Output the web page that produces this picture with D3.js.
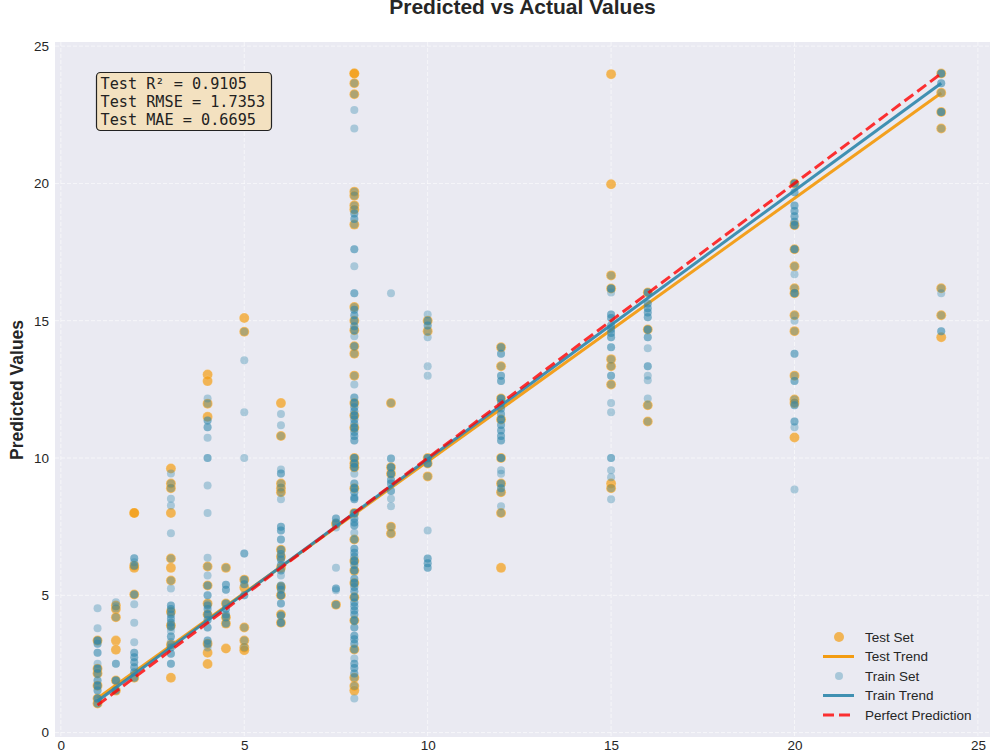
<!DOCTYPE html>
<html>
<head>
<meta charset="utf-8">
<script src="https://cdn.jsdelivr.net/npm/d3@7"></script>
<style>
  html, body { margin: 0; padding: 0; background: #ffffff; }
  svg { display: block; font-family: "Liberation Sans", Arial, sans-serif; }
</style>
</head>
<body>
<svg id="chart" width="1000" height="750"></svg>
<script>
// ---------- DATA ----------
// Each group: [actual value, [predicted values ...]]  (repeated values = overlapping points)
const testGroups = [
  [1,   [3.35, 2.33, 2.15, 1.71, 1.24, 1.06]],
  [1.5, [4.63, 4.5, 4.2, 3.35, 3.02, 1.9, 1.53]],
  [2,   [8.0, 8.0, 6.08, 6.0, 5.03, 2.0]],
  [3,   [9.62, 9.07, 8.9, 8.0, 6.34, 6.0, 5.54, 4.4, 3.9, 3.2, 2.0]],
  [4,   [13.04, 12.8, 11.98, 11.5, 6.05, 5.36, 4.7, 4.3, 3.24, 2.91, 2.5]],
  [4.5, [6.0, 4.7, 4.2, 3.97, 3.06]],
  [5,   [15.1, 14.6, 5.57, 5.28, 3.83, 3.35, 3.1, 3.0]],
  [6,   [12.0, 10.8, 9.07, 8.9, 8.75, 6.66, 6.4, 6.0, 5.3, 5.0, 4.3, 4.0]],
  [7.5, [7.6, 4.66]],
  [8,   [24.0, 24.0, 23.65, 23.25, 19.7, 19.55, 19.2, 19.05, 18.5, 15.5, 15.0, 14.65, 14.07, 13.8, 13.0, 12.0, 11.55, 11.1, 10.0, 9.8, 9.66, 8.9, 8.0, 7.03, 6.25, 5.9, 5.45, 4.93, 4.08, 3.03, 2.0, 1.7, 1.53]],
  [9,   [12.0, 9.66, 9.43, 7.5, 7.25]],
  [10,  [15.0, 14.62, 10.0, 9.8, 9.33]],
  [12,  [14.03, 13.34, 12.17, 11.4, 10.0, 9.07, 8.75, 8.0, 6.0]],
  [15,  [23.98, 19.97, 16.65, 16.17, 13.6, 13.34, 12.68, 9.07, 8.9]],
  [16,  [16.03, 14.68, 11.92, 11.33]],
  [20,  [20.0, 18.48, 17.6, 16.98, 16.18, 16.0, 15.2, 14.62, 13.0, 12.13, 12.0, 10.75]],
  [24,  [24.0, 23.3, 22.6, 22.0, 16.18, 15.2, 14.4]]
];

const trainGroups = [
  [1,   [4.53, 3.8, 3.35, 3.35, 3.35, 3.24, 3.24, 2.91, 2.91, 2.51, 2.33, 2.33, 2.33, 2.15, 2.15, 1.9, 1.9, 1.71, 1.71, 1.71, 1.53, 1.53, 1.24, 1.24, 1.24, 1.06, 1.06]],
  [1.5, [4.75, 4.6, 4.52, 4.2, 2.51, 2.51, 1.9, 1.9, 1.9, 1.53, 1.53]],
  [2,   [6.35, 6.35, 6.2, 6.08, 6.08, 5.03, 5.03, 4.67, 4.0, 3.29, 2.91, 2.91, 2.74, 2.74, 2.56, 2.56, 2.38, 2.38, 2.2, 2.2, 2.0, 2.0]],
  [3,   [9.44, 9.07, 8.9, 8.52, 8.27, 7.26, 6.34, 5.54, 5.25, 4.63, 4.63, 4.5, 4.5, 4.4, 4.3, 4.3, 4.15, 4.15, 4.0, 4.0, 3.9, 3.85, 3.85, 3.7, 3.5, 3.5, 3.3, 3.2, 3.1, 3.1, 2.87, 2.87, 2.51, 2.51]],
  [4,   [12.17, 11.98, 11.37, 11.37, 11.12, 11.12, 10.74, 10.0, 10.0, 9.0, 8.0, 6.37, 6.05, 5.72, 5.36, 5.36, 5.0, 5.0, 4.7, 4.63, 4.63, 4.5, 4.5, 4.3, 4.3, 4.3, 4.1, 4.1, 3.83, 3.83, 3.35, 3.35, 3.24, 3.24, 3.1]],
  [4.5, [6.0, 5.38, 5.38, 5.2, 5.2, 4.7, 4.7, 4.5, 4.5, 4.3, 4.3, 4.2, 4.2, 3.97, 3.97]],
  [5,   [14.6, 13.56, 11.67, 10.0, 6.52, 6.52, 5.57, 5.57, 5.4, 5.4, 5.0, 5.0, 3.83, 3.35, 3.1]],
  [6,   [11.6, 11.19, 10.8, 9.58, 9.44, 9.44, 9.07, 8.93, 8.75, 8.5, 7.5, 7.5, 7.36, 7.36, 7.03, 7.03, 6.66, 6.66, 6.5, 6.5, 6.4, 6.3, 6.3, 6.1, 6.1, 5.9, 5.9, 5.72, 5.36, 5.36, 5.3, 5.2, 5.2, 5.0, 5.0, 5.0, 4.7, 4.7, 4.3, 4.26, 4.26, 4.0, 4.0, 4.0]],
  [7.5, [7.8, 7.8, 7.65, 7.65, 7.6, 7.47, 6.0, 5.25, 5.25, 5.18, 4.66, 4.66]],
  [8,   [23.65, 23.25, 22.67, 22.0, 19.7, 19.55, 19.2, 19.05, 18.9, 18.9, 18.7, 18.7, 18.5, 17.6, 17.6, 16.98, 16.0, 16.0, 15.5, 15.4, 15.4, 15.2, 15.2, 15.0, 15.0, 14.8, 14.8, 14.65, 14.65, 14.43, 14.07, 14.07, 13.8, 13.0, 12.68, 12.2, 12.2, 12.0, 12.0, 12.0, 11.85, 11.85, 11.7, 11.7, 11.55, 11.55, 11.55, 11.4, 11.4, 11.25, 11.25, 11.1, 11.1, 11.1, 10.95, 10.95, 10.8, 10.8, 10.64, 10.64, 10.0, 10.0, 10.0, 9.8, 9.8, 9.8, 9.66, 9.66, 9.66, 9.43, 9.07, 9.07, 8.9, 8.9, 8.9, 8.75, 8.75, 8.56, 8.56, 8.5, 8.5, 8.0, 8.0, 8.0, 7.8, 7.8, 7.65, 7.65, 7.54, 7.54, 7.28, 7.03, 7.03, 6.7, 6.7, 6.55, 6.55, 6.4, 6.4, 6.25, 6.25, 6.25, 6.1, 6.1, 5.9, 5.9, 5.9, 5.6, 5.6, 5.45, 5.45, 5.45, 5.3, 5.3, 5.15, 5.15, 4.93, 4.93, 4.93, 4.74, 4.74, 4.6, 4.6, 4.45, 4.45, 4.3, 4.3, 4.08, 4.08, 4.08, 3.83, 3.83, 3.53, 3.53, 3.4, 3.4, 3.24, 3.24, 3.03, 3.03, 2.7, 2.51, 2.51, 2.35, 2.35, 2.15, 2.15, 2.0, 1.7, 1.24]],
  [9,   [16.0, 12.0, 9.98, 9.98, 9.66, 9.66, 9.66, 9.43, 9.43, 9.43, 9.2, 9.2, 9.07, 9.07, 8.8, 8.8, 8.52, 8.24, 7.5, 7.25]],
  [10,  [15.23, 15.0, 15.0, 14.83, 14.83, 14.62, 14.4, 13.34, 13.0, 10.0, 10.0, 10.0, 9.8, 9.8, 9.8, 9.33, 7.36, 6.34, 6.34, 6.17, 6.17, 6.0, 6.0]],
  [12,  [14.03, 14.03, 13.8, 13.8, 13.34, 13.0, 13.0, 12.8, 12.8, 12.17, 12.17, 12.17, 12.0, 12.0, 11.8, 11.8, 11.6, 11.6, 11.4, 11.4, 11.4, 11.2, 11.2, 11.0, 11.0, 10.8, 10.8, 10.64, 10.64, 10.0, 10.0, 10.0, 9.55, 9.43, 9.07, 9.07, 8.9, 8.9, 8.75, 8.24, 8.0]],
  [15,  [16.65, 16.17, 16.17, 16.17, 16.03, 15.23, 15.23, 15.1, 15.1, 14.83, 14.83, 14.7, 14.7, 14.55, 14.55, 14.4, 14.4, 14.03, 14.03, 13.6, 13.34, 13.0, 13.0, 12.68, 12.0, 11.67, 10.0, 10.0, 9.55, 9.3, 8.9, 8.5]],
  [16,  [16.03, 16.03, 16.03, 15.63, 15.63, 15.45, 15.45, 15.3, 15.3, 15.13, 15.13, 14.68, 14.68, 14.68, 14.4, 14.4, 14.0, 13.34, 13.34, 13.0, 12.83, 12.17, 11.92, 11.33]],
  [20,  [20.0, 20.0, 20.0, 19.68, 19.68, 19.2, 19.2, 19.0, 19.0, 18.8, 18.8, 18.6, 18.6, 18.48, 18.48, 18.48, 17.6, 17.6, 17.6, 16.98, 16.69, 16.18, 16.0, 16.0, 16.0, 15.2, 15.0, 14.62, 13.8, 13.8, 13.0, 12.8, 12.8, 12.13, 12.0, 11.92, 11.92, 11.33, 11.33, 11.12, 8.85]],
  [24,  [24.0, 24.0, 24.0, 23.65, 23.65, 23.3, 22.6, 22.6, 22.6, 22.0, 16.18, 16.0, 15.2, 14.62, 14.62]]
];

// Trend line end points (x from min to max actual)
const trendX = [1, 24];
const testTrendY = [1.25, 23.29];
const trainTrendY = [1.15, 23.65];
const perfectY = [1, 24];

const xTicks = [0, 5, 10, 15, 20, 25];
const yTicks = [0, 5, 10, 15, 20, 25];

const metricLines = ["Test R\u00B2 = 0.9105", "Test RMSE = 1.7353", "Test MAE = 0.6695"];
const legendLabels = ["Test Set", "Test Trend", "Train Set", "Train Trend", "Perfect Prediction"];

// ---------- LAYOUT ----------
const svg = d3.select("#chart");
const plot = { left: 55, right: 990, top: 42, bottom: 737 };
const x = d3.scaleLinear().domain([-0.16, 25.33]).range([plot.left, plot.right]);
const y = d3.scaleLinear().domain([-0.16, 25.15]).range([plot.bottom, plot.top]);

const cTest = "#F39C12", cTrain = "#2E86AB", cPerfect = "#FF0000";

// background
svg.append("rect").attr("x", plot.left).attr("y", plot.top)
  .attr("width", plot.right - plot.left).attr("height", plot.bottom - plot.top)
  .attr("fill", "#EAEAF2");

// grid
const grid = svg.append("g");
grid.selectAll("line.v").data(xTicks).join("line")
  .attr("x1", d => x(d)).attr("x2", d => x(d))
  .attr("y1", plot.top).attr("y2", plot.bottom)
  .attr("stroke", "#ffffff").attr("stroke-width", 1).attr("stroke-dasharray", "4,2").attr("opacity", 0.6);
grid.selectAll("line.h").data(yTicks).join("line")
  .attr("y1", d => y(d)).attr("y2", d => y(d))
  .attr("x1", plot.left).attr("x2", plot.right)
  .attr("stroke", "#ffffff").attr("stroke-width", 1).attr("stroke-dasharray", "4,2").attr("opacity", 0.6);

// axes
const xAxis = svg.append("g").attr("transform", `translate(0,${plot.bottom})`)
  .call(d3.axisBottom(x).tickValues(xTicks).tickSize(0).tickPadding(3));
const yAxis = svg.append("g").attr("transform", `translate(${plot.left},0)`)
  .call(d3.axisLeft(y).tickValues(yTicks).tickSize(0).tickPadding(6));
[xAxis, yAxis].forEach(a => {
  a.select(".domain").remove();
  a.selectAll("text").attr("font-size", 13.5).attr("fill", "#262626")
    .attr("font-family", "'Liberation Sans', Arial, sans-serif");
});

const flat = groups => groups.flatMap(([a, ps]) => ps.map(p => ({ a, p })));
const testPts = flat(testGroups);
const trainPts = flat(trainGroups);

// test scatter
svg.append("g").selectAll("circle").data(testPts).join("circle")
  .attr("cx", d => x(d.a)).attr("cy", d => y(d.p)).attr("r", 5)
  .attr("fill", cTest).attr("fill-opacity", 0.7)
  .attr("stroke", "#ffffff").attr("stroke-opacity", 0.35).attr("stroke-width", 0.5);

// test trend
const line = d3.line().x(d => x(d[0])).y(d => y(d[1]));
svg.append("path").datum(trendX.map((v, i) => [v, testTrendY[i]]))
  .attr("d", line).attr("fill", "none").attr("stroke", cTest).attr("stroke-width", 3).attr("stroke-opacity", 0.95);

// train scatter
svg.append("g").selectAll("circle").data(trainPts).join("circle")
  .attr("cx", d => x(d.a)).attr("cy", d => y(d.p)).attr("r", 4)
  .attr("fill", cTrain).attr("fill-opacity", 0.35);

// train trend
svg.append("path").datum(trendX.map((v, i) => [v, trainTrendY[i]]))
  .attr("d", line).attr("fill", "none").attr("stroke", cTrain).attr("stroke-width", 3).attr("stroke-opacity", 0.9);

// perfect prediction
svg.append("path").datum(trendX.map((v, i) => [v, perfectY[i]]))
  .attr("d", line).attr("fill", "none").attr("stroke", cPerfect).attr("stroke-opacity", 0.8)
  .attr("stroke-width", 3).attr("stroke-dasharray", "11,5");

// metrics box
const box = svg.append("g");
box.append("rect").attr("x", 96.5).attr("y", 72.5).attr("width", 175).attr("height", 58).attr("rx", 4)
  .attr("fill", "#F5DEB3").attr("fill-opacity", 0.8).attr("stroke", "#222").attr("stroke-width", 1.2);
box.selectAll("text").data(metricLines).join("text")
  .attr("x", 100.5).attr("y", (d, i) => 89 + i * 17.8)
  .attr("font-family", "'DejaVu Sans Mono', monospace").attr("font-size", 15.2).attr("fill", "#222")
  .text(d => d);

// legend
const lg = svg.append("g").attr("transform", "translate(823,0)");
const rowsY = [637, 656.5, 676, 695.5, 715];
lg.append("circle").attr("cx", 16).attr("cy", rowsY[0]).attr("r", 5)
  .attr("fill", cTest).attr("fill-opacity", 0.7);
lg.append("line").attr("x1", 0).attr("x2", 31).attr("y1", rowsY[1]).attr("y2", rowsY[1])
  .attr("stroke", cTest).attr("stroke-width", 3);
lg.append("circle").attr("cx", 16).attr("cy", rowsY[2]).attr("r", 4)
  .attr("fill", cTrain).attr("fill-opacity", 0.35);
lg.append("line").attr("x1", 0).attr("x2", 31).attr("y1", rowsY[3]).attr("y2", rowsY[3])
  .attr("stroke", cTrain).attr("stroke-width", 3).attr("stroke-opacity", 0.9);
lg.append("line").attr("x1", 0).attr("x2", 31).attr("y1", rowsY[4]).attr("y2", rowsY[4])
  .attr("stroke", cPerfect).attr("stroke-opacity", 0.8).attr("stroke-width", 3).attr("stroke-dasharray", "11,5");
lg.selectAll("text").data(legendLabels).join("text")
  .attr("x", 42).attr("y", (d, i) => rowsY[i]).attr("dy", "0.35em")
  .attr("font-size", 13.5).attr("fill", "#262626").text(d => d);

// title & y label
svg.append("text").attr("x", (plot.left + plot.right) / 2).attr("y", 14)
  .attr("text-anchor", "middle").attr("font-weight", "bold").attr("font-size", 21).attr("fill", "#262626")
  .text("Predicted vs Actual Values");
svg.append("text").attr("transform", "translate(23,390) rotate(-90)")
  .attr("text-anchor", "middle").attr("font-weight", "bold").attr("font-size", 17.5).attr("fill", "#262626")
  .text("Predicted Values");
</script>
</body>
</html>
